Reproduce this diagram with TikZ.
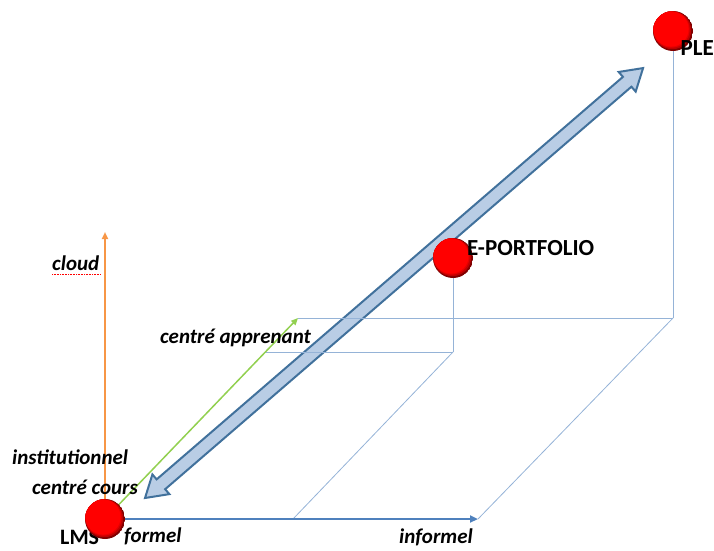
\documentclass[tikz,border=0pt]{standalone}
\usepackage{fontspec}
\setmainfont{Carlito}
\usetikzlibrary{arrows.meta,calc}
\definecolor{axisblue}{HTML}{4F81BD}
\definecolor{thinblue}{HTML}{95B3D7}
\definecolor{arrfill}{HTML}{B9CDE5}
\definecolor{arrline}{HTML}{41719C}
\definecolor{orangeax}{HTML}{F79646}
\definecolor{greenax}{HTML}{92D050}
\tikzset{
  thinline/.style={draw=thinblue, line width=0.8pt},
  ball/.style={circle, minimum size=40pt, inner sep=0pt,
    path picture={
      \fill[red!50!black] (path picture bounding box.center) circle (20pt);
      \fill[red!75!black] ([shift={(-0.8pt,0.8pt)}]path picture bounding box.center) circle (19pt);
      \fill[red!90!black] ([shift={(-1.5pt,1.5pt)}]path picture bounding box.center) circle (18.2pt);
      \fill[red] ([shift={(-2pt,2pt)}]path picture bounding box.center) circle (17.6pt);
    }},
  axlabel/.style={font=\fontsize{21}{21}\selectfont\bfseries\itshape, anchor=base west, inner sep=0pt},
  caplabel/.style={font=\fontsize{23}{23}\selectfont\bfseries, anchor=base west, inner sep=0pt},
}
\begin{document}
\begin{tikzpicture}[x=1pt,y=-1pt]
\useasboundingbox (0,0) rectangle (714,550);
% coordinates
\coordinate (lmsc) at (105,519);
\coordinate (epc) at (453,258);
\coordinate (plec) at (673,31);
\coordinate (xend) at (478,519);
\coordinate (yend) at (105,232);
\coordinate (zend) at (298,318);
\coordinate (b1) at (293,519);
\coordinate (b2) at (453,352);
\coordinate (b3) at (265,352);
\coordinate (c2) at (673,318);
% big double arrow
\begin{scope}[shift={(145,498)}, rotate=40.8]
\filldraw[fill=arrfill, draw=arrline, line width=2pt, line join=miter]
  (0,0) -- (21,13) -- (21,6.5) -- (637,6.5) -- (637,13) -- (658,0)
  -- (637,-13) -- (637,-6.5) -- (21,-6.5) -- (21,-13) -- cycle;
\end{scope}
% thin construction lines
\draw[thinline] (b1) -- (b2);
\draw[thinline] (xend) -- (c2);
\draw[thinline] (b3) -- (b2);
\draw[thinline] (zend) -- (c2);
\draw[thinline] (epc) -- (b2);
\draw[thinline] (plec) -- (c2);
% axes
\draw[orangeax, line width=1.8pt, -{Triangle[length=7pt,width=6pt]}] (lmsc) -- (yend);
\draw[greenax, line width=1.5pt, -{Triangle[length=7pt,width=6pt]}] (lmsc) -- (zend);
\draw[axisblue, line width=2.2pt, -{Triangle[length=8pt,width=7pt]}] (lmsc) -- (xend);
% LMS label (behind ball)
\node[caplabel, font=\fontsize{22}{22}\selectfont\bfseries] (tlms) at (60,544) {LMS};
% balls
\node[ball] (lms) at (lmsc) {};
\node[ball] (ep) at (epc) {};
\node[ball] (ple) at (plec) {};
% labels
\node[caplabel, anchor=base east] (tple) at (714,55) {PLE};
\node[caplabel] (tep) at (467,255) {E-PORTFOLIO};
\node[axlabel] (tcloud) at (52,270) {cloud};
\draw[red, line width=0.6pt, densely dotted] (52,274.5) -- (101,274.5);
\node[axlabel] (tapp) at (160,343) {centré apprenant};
\node[axlabel] (tinst) at (12,464) {institutionnel};
\node[axlabel] (tcours) at (32,494) {centré cours};
\node[axlabel] (tformel) at (124,542) {formel};
\node[axlabel] (tinformel) at (399,543) {informel};
\end{tikzpicture}
\end{document}
